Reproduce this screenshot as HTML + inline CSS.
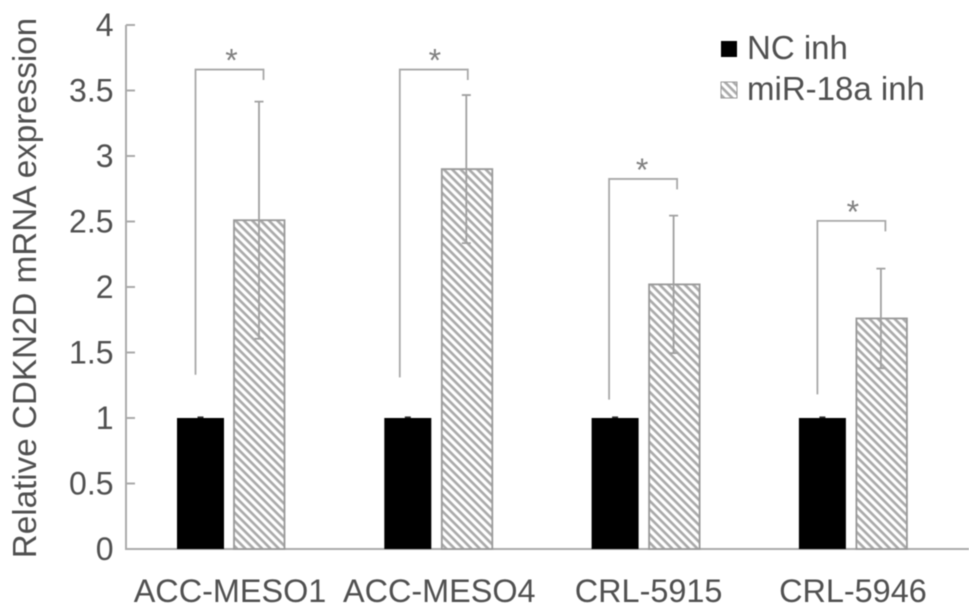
<!DOCTYPE html>
<html>
<head>
<meta charset="utf-8">
<style>
html,body{margin:0;padding:0;background:#fff;width:969px;height:615px;overflow:hidden}
svg{display:block;filter:blur(.6px)}
text{font-family:"Liberation Sans",sans-serif;fill:#505050}
</style>
</head>
<body>
<svg id="chart" width="969" height="615" viewBox="0 0 969 615">
<defs>
<pattern id="hatch" width="8" height="8" patternUnits="userSpaceOnUse" patternTransform="rotate(45) scale(.74)">
<rect width="8" height="8" fill="#fff"/>
<rect width="8" height="3.6" fill="#aaa"/>
</pattern>
</defs>
</svg>
<script>
var categories = ['ACC-MESO1', 'ACC-MESO4', 'CRL-5915', 'CRL-5946'];
var ncValues = [1, 1, 1, 1];
var ncErrors = [0.012, 0.012, 0.012, 0.012];
var mirValues = [2.51, 2.9, 2.02, 1.76];
var mirErrors = [0.905, 0.565, 0.525, 0.38];
var bracketTops = [3.66, 3.66, 2.825, 2.505];
var bracketLeftEnds = [1.33, 1.31, 1.14, 1.18];
var bracketRightEnds = [3.58, 3.58, 2.745, 2.425];
var yTicks = [0, 0.5, 1, 1.5, 2, 2.5, 3, 3.5, 4];
var yTickLabels = ['0', '0.5', '1', '1.5', '2', '2.5', '3', '3.5', '4'];
var seriesNames = ['NC inh', 'miR-18a inh'];

var svg = document.getElementById('chart');
var NS = 'http://www.w3.org/2000/svg';
function y(v) { return 549 - v * 131; }
function groupX(i) { return 177 + i * 207.3; }
function add(tag, attrs, text) {
  var el = document.createElementNS(NS, tag);
  for (var k in attrs) el.setAttribute(k, attrs[k]);
  if (text !== undefined) el.textContent = text;
  svg.appendChild(el);
  return el;
}
var axisColor = '#aaa';
var el;

el = add('line', {x1: 126, y1: y(4), x2: 126, y2: y(0) + 1, stroke: axisColor, 'stroke-width': 2});


el = add('line', {x1: 125, y1: y(0), x2: 969, y2: y(0), stroke: axisColor, 'stroke-width': 2});



yTicks.forEach(function (t, i) {
  if (t > 0) {
    var tk = add('line', {x1: 126, y1: y(t), x2: 135, y2: y(t), stroke: axisColor, 'stroke-width': 2});
    
    
  }
  var lb = add('text', {x: 113.5, y: y(t) + 11, 'text-anchor': 'end', 'font-size': 32}, yTickLabels[i]);
  
  
});

el = add('text', {transform: 'translate(36,288) rotate(-90)', 'text-anchor': 'middle', 'font-size': 33.2}, 'Relative CDKN2D mRNA expression');



categories.forEach(function (c, i) {
  var x0 = groupX(i);
  var bw = 47, hx = x0 + 57 + Math.min(i, 1) * 0.5, hw = 50.5;
  var cx = x0 + bw / 2, hc = x0 + 82;
  var e;

  e = add('line', {x1: cx, y1: y(ncValues[i] + ncErrors[i]), x2: cx, y2: y(ncValues[i]), stroke: '#333', 'stroke-width': 6});
  
  
  e = add('rect', {x: x0, y: y(ncValues[i]), width: bw, height: y(0) - y(ncValues[i]), fill: '#000'});
  
  

  e = add('rect', {x: hx, y: y(mirValues[i]), width: hw, height: y(0) - y(mirValues[i]), fill: 'url(#hatch)', stroke: '#999', 'stroke-width': 1.8});
  
  

  var top = mirValues[i] + mirErrors[i], bot = mirValues[i] - mirErrors[i];
  e = add('path', {d: 'M' + hc + ' ' + y(top) + 'V' + y(bot) + 'M' + (hc - 4.5) + ' ' + y(top) + 'H' + (hc + 4.5) + 'M' + (hc - 4.5) + ' ' + y(bot) + 'H' + (hc + 4.5), fill: 'none', stroke: '#a0a0a0', 'stroke-width': 1.8});
  
  

  var bl = x0 + 18 - (i === 1 ? 3 : i === 2 ? 1 : 0) + 0.5, br = bl + 68;
  e = add('path', {d: 'M' + bl + ' ' + y(bracketLeftEnds[i]) + 'V' + y(bracketTops[i]) + 'H' + br + 'V' + y(bracketRightEnds[i]), fill: 'none', stroke: '#a8a8a8', 'stroke-width': 1.8});
  
  

  e = add('text', {x: (bl + br) / 2 + (i === 0 ? 2 : i === 1 ? 1 : i === 2 ? -1 : 1.5), y: y(bracketTops[i]) + 2, 'text-anchor': 'middle', 'font-size': 32, style: 'fill:#808080'}, '*');
  
  

  e = add('text', {x: x0 + 53 + (i === 1 ? 2 : i === 2 ? 4 : i === 3 ? 1 : 0), y: 602, 'text-anchor': 'middle', 'font-size': 32.4}, c);
  
  
});

el = add('rect', {x: 721, y: 41, width: 16, height: 16, fill: '#000'});


el = add('text', {x: 747, y: 59, 'font-size': 33}, seriesNames[0]);


el = add('rect', {x: 721, y: 82, width: 16, height: 16, fill: 'url(#hatch)', stroke: '#999', 'stroke-width': 1});


el = add('text', {x: 747, y: 100, 'font-size': 33}, seriesNames[1]);


</script>
</body>
</html>
